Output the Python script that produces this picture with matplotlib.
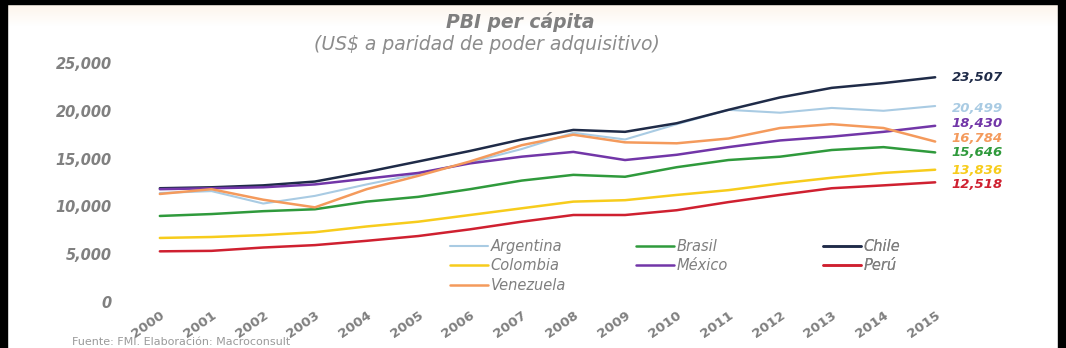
import numpy as np
import matplotlib
matplotlib.use("Agg")
import matplotlib.pyplot as plt
from matplotlib.patches import Rectangle

years = [str(y) for y in range(2000, 2016)]
argentina = [11400, 11600, 10300, 11100, 12300, 13400, 14600, 16000, 17700, 17000, 18600, 20100, 19800, 20300, 20000, 20499]
brasil = [9000, 9200, 9500, 9700, 10500, 11000, 11800, 12700, 13300, 13100, 14100, 14850, 15200, 15900, 16200, 15646]
chile = [11900, 12000, 12200, 12600, 13600, 14700, 15800, 17000, 18000, 17800, 18700, 20100, 21400, 22400, 22900, 23507]
colombia = [6700, 6800, 7000, 7300, 7900, 8400, 9100, 9800, 10500, 10650, 11200, 11700, 12400, 13000, 13500, 13836]
mexico = [11800, 11900, 12000, 12300, 12900, 13500, 14500, 15200, 15700, 14850, 15400, 16200, 16900, 17300, 17800, 18430]
peru = [5300, 5350, 5700, 5950, 6400, 6900, 7600, 8400, 9100, 9100, 9600, 10450, 11200, 11900, 12200, 12518]
venezuela = [11300, 11800, 10700, 9900, 11800, 13200, 14700, 16400, 17500, 16700, 16600, 17100, 18200, 18600, 18200, 16784]

series = {
    "Argentina": (argentina, "#a9cbe3"),
    "Brasil": (brasil, "#2f9a3c"),
    "Chile": (chile, "#1f2b48"),
    "Colombia": (colombia, "#f7cc1c"),
    "México": (mexico, "#7236a8"),
    "Perú": (peru, "#cf2030"),
    "Venezuela": (venezuela, "#f49a5c"),
}
# point offsets for the end labels so they don't collide
label_dy = {"Chile": 0, "Argentina": -2, "México": 1.5, "Venezuela": 2.2,
            "Brasil": -0.4, "Colombia": -0.3, "Perú": -1.8}

W, H = 1066, 348
fig = plt.figure(figsize=(W / 100, H / 100), dpi=100)

# background with pale cream band on top
bg = fig.add_axes([0, 0, 1, 1])
grad = np.ones((H, 1, 3))
top = np.array([0.99, 0.95, 0.91])
for i in range(26):
    t = i / 26
    grad[i, 0] = top * (1 - t) + np.array([1, 1, 1]) * t
bg.imshow(grad, aspect="auto", extent=[0, W, H, 0])
bg.set_xlim(0, W)
bg.set_ylim(H, 0)
bg.axis("off")
bg.add_patch(Rectangle((0, 0), W, 4, color="black"))
bg.add_patch(Rectangle((0, 0), 7, H, color="black"))
bg.add_patch(Rectangle((1058, 0), 8, H, color="black"))

ax = fig.add_axes([134 / W, (H - 302) / H, 827 / W, 239 / H])
ax.set_facecolor("none")
x = np.arange(len(years))
for name, (vals, col) in series.items():
    lw = 1.8 if name != "Argentina" else 1.5
    ax.plot(x, vals, color=col, lw=lw, label=name, solid_capstyle="round")
    ax.annotate(f"{vals[-1]:,}", xy=(x[-1], vals[-1]), xytext=(12, label_dy[name]),
                textcoords="offset points", color=col, fontsize=9.5,
                fontweight="bold", fontstyle="italic", va="center", ha="left",
                annotation_clip=False)

ax.set_xlim(-0.5, 15.5)
ax.set_ylim(0, 25000)
ax.set_yticks(range(0, 25001, 5000))
ax.yaxis.set_major_formatter(matplotlib.ticker.FuncFormatter(lambda v, p: f"{int(v):,}"))
ax.set_xticks(x)
ax.set_xticklabels(years)
for s in ax.spines.values():
    s.set_visible(False)
ax.tick_params(axis="both", length=0, colors="#808080")
ax.tick_params(axis="y", pad=16)
ax.tick_params(axis="x", pad=5)
for lab in ax.get_yticklabels():
    lab.set_fontsize(10.5)
    lab.set_fontweight("bold")
    lab.set_fontstyle("italic")
for lab in ax.get_xticklabels():
    lab.set_fontsize(9.5)
    lab.set_fontweight("bold")
    lab.set_rotation(35)
    lab.set_ha("right")
    lab.set_rotation_mode("anchor")

# legend in three columns, placed separately
lines = {l.get_label(): l for l in ax.get_lines()}
cols = [["Argentina", "Colombia", "Venezuela"], ["Brasil", "México"], ["Chile", "Perú"]]
xs = [450, 636, 823]
for names, xp in zip(cols, xs):
    leg = ax.legend([lines[n] for n in names], names, loc="upper left",
                    bbox_to_anchor=(xp / W, (H - 239) / H), bbox_transform=fig.transFigure,
                    frameon=False, fontsize=10.5, handlelength=2.6, handletextpad=0.2,
                    labelspacing=0.3, borderpad=0, borderaxespad=0)
    for t in leg.get_texts():
        t.set_color("#7f7f7f")
        t.set_fontstyle("italic")
    ax.add_artist(leg)

fig.text(520 / W, 1 - 22 / H, "PBI per cápita", ha="center", va="center",
         fontsize=13.5, fontweight="bold", fontstyle="italic", color="#7f7f7f")
fig.text(487 / W, 1 - 44 / H, "(US$ a paridad de poder adquisitivo)", ha="center", va="center",
         fontsize=13.5, fontstyle="italic", color="#8c8c8c")
fig.text(72 / W, 1 - 337 / H, "Fuente: FMI. Elaboración: Macroconsult", ha="left", va="top",
         fontsize=8, color="#9a9a9a")

fig.savefig("out.png", dpi=100)
